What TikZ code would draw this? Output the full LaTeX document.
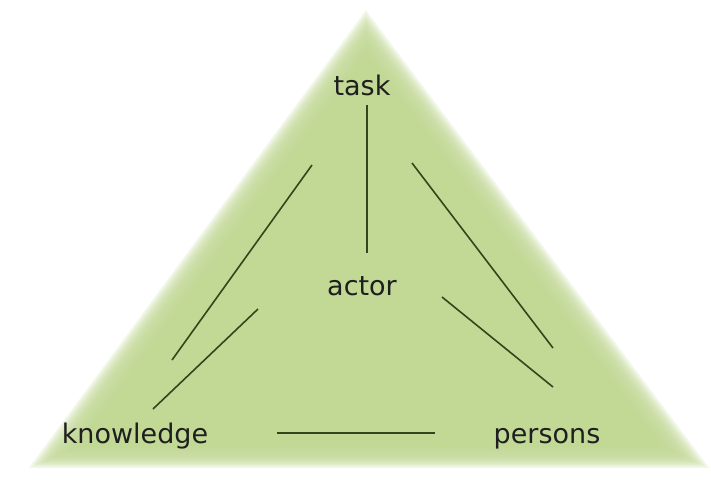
\documentclass[tikz,border=0pt]{standalone}
\usepackage{fontspec}
\setmainfont{DejaVu Sans}
\usetikzlibrary{calc}
\begin{document}
\begin{tikzpicture}[x=1pt,y=-1pt,
  lbl/.style={font=\fontsize{27}{31}\selectfont, text=black!88, inner sep=2pt, anchor=base},
  link/.style={draw=linkcol, line width=1.6pt},
  layer/.style={fill=trigreen, draw=none}]
\definecolor{trigreen}{RGB}{194,217,150}
\definecolor{linkcol}{RGB}{50,70,28}
\useasboundingbox (0,0) rectangle (711,491);
\fill[white] (0,0) rectangle (711,491);
% soft-edged triangle
\coordinate (va) at (366,22);
\coordinate (vl) at (42,462);
\coordinate (vr) at (696,462);
\coordinate (cen) at (368,315.3);
\fill[layer] ($(cen)!0.90!(va)$) -- ($(cen)!0.90!(vl)$) -- ($(cen)!0.90!(vr)$) -- cycle;
\foreach \s in {0.91,0.92,0.93,0.94,0.95,0.96,0.97,0.98,0.99,1.00,1.01,1.02,1.03,1.04}{
  \fill[layer, opacity=0.2] ($(cen)!\s!(va)$) -- ($(cen)!\s!(vl)$) -- ($(cen)!\s!(vr)$) -- cycle;
}
% labels
\node[lbl] (task) at (362,95) {task};
\node[lbl] (actor) at (362,295) {actor};
\node[lbl] (knowledge) at (135,443) {knowledge};
\node[lbl] (persons) at (547,443) {persons};
% connector end points
\coordinate (tl1) at (312,165); \coordinate (kl1) at (172,360);
\coordinate (al2) at (258,309); \coordinate (kl2) at (153,409);
\coordinate (tr1) at (412,163); \coordinate (pr1) at (553,348);
\coordinate (ar2) at (442,297); \coordinate (pr2) at (553,387);
\coordinate (ta) at (367,105); \coordinate (at) at (367,253);
\coordinate (kp) at (277,433); \coordinate (pk) at (435,433);
\draw[link] (ta) -- (at);
\draw[link] (tl1) -- (kl1);
\draw[link] (al2) -- (kl2);
\draw[link] (tr1) -- (pr1);
\draw[link] (ar2) -- (pr2);
\draw[link] (kp) -- (pk);
\end{tikzpicture}
\end{document}
